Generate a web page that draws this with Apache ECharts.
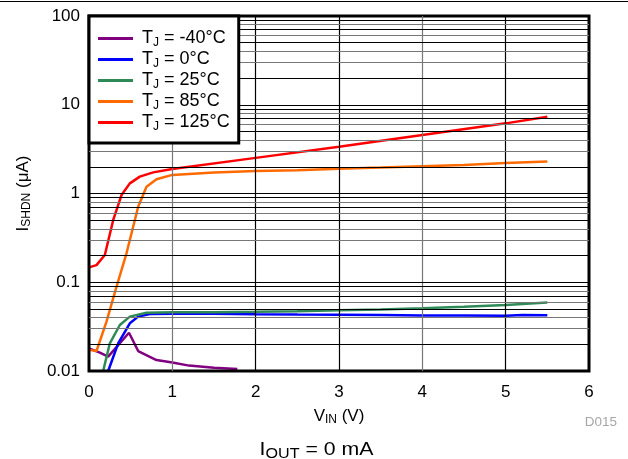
<!DOCTYPE html>
<html>
<head>
<meta charset="utf-8">
<script src="https://cdn.jsdelivr.net/npm/echarts@6/dist/echarts.min.js"></script>
<style>html,body{margin:0;padding:0;background:#fff}#c{width:628px;height:459px}</style>
</head>
<body>
<div id="c"></div>
<script>
// Temperature labels (legend)
const tempLabels = ['-40°C', '0°C', '25°C', '85°C', '125°C'];
const seriesColors = ['#800080', '#0000ff', '#2e8b57', '#ff6a00', '#ff0000'];

// V_IN (V) and I_SHDN (µA) values per temperature
const vinM40 = [0, 0.13, 0.23, 0.48, 0.59, 0.81, 1.0, 1.2, 1.5, 1.78];
const iM40   = [0.018, 0.0161, 0.0145, 0.027, 0.0168, 0.0133, 0.0125, 0.0115, 0.0109, 0.0105];

const vin0 = [0.23, 0.35, 0.49, 0.59, 0.73, 1.0, 1.5, 2.0, 2.5, 3.0, 3.5, 4.0, 4.5, 5.0, 5.2, 5.5];
const i0   = [0.01, 0.0205, 0.0345, 0.041, 0.0439, 0.0443, 0.0441, 0.0435, 0.0432, 0.043, 0.0428, 0.0422, 0.0421, 0.042, 0.0427, 0.0425];

const vin25 = [0.17, 0.25, 0.37, 0.49, 0.69, 1.0, 1.5, 2.0, 2.5, 3.0, 3.5, 4.0, 4.5, 5.0, 5.5];
const i25   = [0.01, 0.0205, 0.033, 0.041, 0.0454, 0.0458, 0.046, 0.0464, 0.0472, 0.0485, 0.0494, 0.0508, 0.053, 0.0555, 0.059];

const vin85 = [0, 0.09, 0.21, 0.33, 0.45, 0.59, 0.69, 0.81, 1.0, 1.5, 2.0, 2.5, 3.0, 3.5, 4.0, 4.5, 5.0, 5.5];
const i85   = [0.0173, 0.0168, 0.036, 0.089, 0.212, 0.71, 1.19, 1.45, 1.62, 1.72, 1.79, 1.83, 1.9, 1.96, 2.03, 2.1, 2.2, 2.3];

const vin125 = [0, 0.09, 0.19, 0.29, 0.39, 0.49, 0.61, 0.77, 1.0, 2.0, 3.0, 4.0, 5.0, 5.5];
const i125   = [0.147, 0.156, 0.203, 0.5, 0.96, 1.3, 1.55, 1.73, 1.89, 2.52, 3.37, 4.56, 6.17, 7.33];

// Axis ticks
const xTicks = [0, 1, 2, 3, 4, 5, 6];
const yTicks = [0.01, 0.1, 1, 10, 100];
// Gridlines
const vGrid = [1, 2, 3, 4, 5];
const vGridDark = [false, true, true, false, true];
const hGridMult = [2, 3, 4, 5, 6, 7, 8, 9];
const hGridMultDark = [true, false, false, true, false, true, false, true];

const xs = [vinM40, vin0, vin25, vin85, vin125];
const ys = [iM40, i0, i25, i85, i125];

const FONT = 'Liberation Sans, Arial, sans-serif';

const gridLines = [];
vGrid.forEach((v, i) => gridLines.push({ xAxis: v, lineStyle: { color: vGridDark[i] ? '#000' : '#777', width: 1.2, type: 'solid' } }));
yTicks.slice(0, -1).forEach((d, di) => {
  if (di > 0) gridLines.push({ yAxis: d, lineStyle: { color: '#000', width: 1.2, type: 'solid' } });
  hGridMult.forEach((m, i) => gridLines.push({ yAxis: +(d * m).toPrecision(3), lineStyle: { color: hGridMultDark[i] ? '#000' : '#777', width: 1.2, type: 'solid' } }));
});

const series = [{
  name: 'grid', type: 'line', data: [], z: 1, silent: true,
  markLine: { silent: true, symbol: 'none', label: { show: false }, animation: false, data: gridLines }
}];
tempLabels.forEach((t, k) => {
  series.push({
    name: t, type: 'line', showSymbol: false, smooth: false, z: 3,
    color: seriesColors[k],
    lineStyle: { width: 2.5, color: seriesColors[k] },
    data: xs[k].map((x, i) => [x, ys[k][i]])
  });
});

const chart = echarts.init(document.getElementById('c'), null, { renderer: 'canvas' });
chart.setOption({
  animation: false,
  backgroundColor: '#fff',
  textStyle: { fontFamily: FONT },
  grid: { left: 89, top: 16, width: 500, height: 355, show: true, borderColor: '#000', borderWidth: 3, backgroundColor: 'transparent', containLabel: false, z: 5 },
  legend: {
    data: tempLabels,
    left: 89, top: 16, orient: 'vertical',
    backgroundColor: '#fff', borderColor: '#000', borderWidth: 3,
    padding: [12, 9, 10, 9], itemGap: 0, itemWidth: 35, itemHeight: 3,
    icon: 'rect', z: 10,
    formatter: n => '{f|T}{s|J}{t| = ' + n + '}',
    textStyle: {
      rich: {
        f: { fontSize: 18, lineHeight: 21, fontFamily: FONT, color: '#000', padding: [0, 0, 0, 4] },
        t: { fontSize: 18, lineHeight: 21, fontFamily: FONT, color: '#000' },
        s: { fontSize: 12, lineHeight: 21, fontFamily: FONT, color: '#000', padding: [9, 0, 0, 0] }
      }
    }
  },
  xAxis: {
    type: 'value', min: 0, max: 6, interval: 1,
    axisLine: { show: false }, axisTick: { show: false }, splitLine: { show: false },
    axisLabel: { color: '#000', fontSize: 17, margin: 13, fontFamily: FONT, formatter: v => xTicks.includes(v) ? String(v) : '' },
    name: '{t|V}{s|IN}{t| (V)}', nameLocation: 'middle', nameGap: 32,
    nameTextStyle: { rich: {
      t: { fontSize: 17, fontFamily: FONT, color: '#000', lineHeight: 20 },
      s: { fontSize: 12, fontFamily: FONT, color: '#000', lineHeight: 20, padding: [8, 0, 0, 0] }
    } }
  },
  yAxis: {
    type: 'log', logBase: 10, min: 0.01, max: 100, interval: 1,
    axisLine: { show: false }, axisTick: { show: false }, splitLine: { show: false }, minorSplitLine: { show: false },
    axisLabel: { color: '#000', fontSize: 17, margin: 9, fontFamily: FONT,
      formatter: v => { const m = yTicks.find(t => Math.abs(t - v) / t < 1e-6); return m === undefined ? '' : String(m); } },
    name: '{t|I}{s|SHDN}{t| (μA)}', nameLocation: 'middle', nameGap: 56, nameRotate: 90,
    nameTextStyle: { rich: {
      t: { fontSize: 17, fontFamily: FONT, color: '#000', lineHeight: 20 },
      s: { fontSize: 12, fontFamily: FONT, color: '#000', lineHeight: 20, padding: [8, 0, 0, 0] }
    } }
  },
  graphic: [
    { type: 'line', shape: { x1: 0, y1: 1.5, x2: 628, y2: 1.5 }, style: { stroke: '#000', lineWidth: 1 } },
    { type: 'text', x: 617, y: 422.5, style: { text: 'D015', fill: '#a6a6a6', font: '13.5px ' + FONT, textAlign: 'right', textVerticalAlign: 'middle' } },
    { type: 'text', x: 316.5, y: 450, scaleX: 1.15, style: {
      text: '{t|I}{s|OUT}{t| = 0 mA}', textAlign: 'center', textVerticalAlign: 'middle',
      rich: {
        t: { fontSize: 18.5, fontFamily: FONT, fill: '#000', lineHeight: 22 },
        s: { fontSize: 14, fontFamily: FONT, fill: '#000', lineHeight: 22, padding: [9, 0, 0, 0] }
      } } }
  ],
  series: series
});
</script>
</body>
</html>
